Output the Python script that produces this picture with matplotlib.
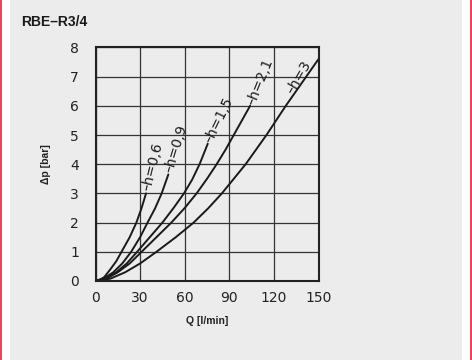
import matplotlib
matplotlib.use("Agg")
import matplotlib.pyplot as plt
from matplotlib.patches import Rectangle

title = "RBE\u2013R3/4"
x_label = "Q [l/min]"
y_label = "\u0394p [bar]"
x_ticks = [0, 30, 60, 90, 120, 150]
y_ticks = [0, 1, 2, 3, 4, 5, 6, 7, 8]

labels = ["h=0,6", "h=0,9", "h=1,5", "h=2,1", "h=3"]
q_06 = [0, 3, 6, 10, 14, 17.5, 23, 27.5, 31, 34]
p_06 = [0, 0.04, 0.14, 0.4, 0.68, 1.0, 1.5, 2.0, 2.5, 3.0]
q_09 = [0, 6, 12, 18, 24, 30, 35, 40, 44.5, 49]
p_09 = [0, 0.1, 0.3, 0.6, 1.0, 1.5, 2.0, 2.48, 3.0, 3.65]
q_15 = [0, 8, 14, 21, 28, 36.5, 45, 52.5, 59.5, 65, 70, 75.5]
p_15 = [0, 0.12, 0.3, 0.6, 1.0, 1.5, 2.0, 2.5, 3.0, 3.47, 4.0, 4.7]
q_21 = [0, 8, 15, 23, 31, 41, 51, 60, 68, 75, 81.5, 87.5, 93, 98.5, 104]
p_21 = [0, 0.1, 0.3, 0.6, 1.0, 1.5, 2.0, 2.5, 3.0, 3.5, 4.0, 4.5, 5.0, 5.5, 6.0]
q_3 = [0, 10, 20, 30, 41, 54, 66, 76, 85, 93, 101, 108, 115, 121.5, 128, 139, 150]
p_3 = [0, 0.08, 0.3, 0.6, 1.0, 1.5, 2.0, 2.5, 3.0, 3.5, 4.0, 4.5, 5.0, 5.5, 6.0, 6.8, 7.6]
series_q = [q_06, q_09, q_15, q_21, q_3]
series_p = [p_06, p_09, p_15, p_21, p_3]

# label anchors (start of the dash) and rotations -- layout only
label_pos = [(34.3, 3.1), (49.2, 3.72), (75.8, 4.76), (104.3, 6.04), (131.0, 6.45)]
label_rot = [76, 73, 64, 68, 60]

fig = plt.figure(figsize=(4.72, 3.6), dpi=100)
fig.patch.set_facecolor("white")
fig.add_artist(Rectangle((10/472, 0), 452/472, 1, transform=fig.transFigure,
                         facecolor="#ececec", edgecolor="none", zorder=-10))
fig.add_artist(Rectangle((0, 0), 2/472, 1, transform=fig.transFigure,
                         facecolor="#e8455c", edgecolor="none", zorder=-9))
fig.add_artist(Rectangle((470/472, 0), 2/472, 1, transform=fig.transFigure,
                         facecolor="#e8455c", edgecolor="none", zorder=-9))

ax = fig.add_axes([95.5/472, 79/360, 223/472, 233.6/360])
ax.set_facecolor("#ececec")
ax.set_xlim(0, 150)
ax.set_ylim(0, 8)
ax.set_xticks(x_ticks)
ax.set_yticks(y_ticks)
tick_font = ["DejaVu Sans Condensed", "Liberation Sans Narrow", "DejaVu Sans"]
ax.set_xticklabels([str(t) for t in x_ticks], family=tick_font, fontsize=10, color="#222222")
ax.set_yticklabels([str(t) for t in y_ticks], family=tick_font, fontsize=10, color="#222222")
ax.tick_params(axis="both", length=0)
ax.tick_params(axis="y", pad=12)
ax.tick_params(axis="x", pad=7)
ax.grid(True, color="#333333", linewidth=0.9)
ax.set_axisbelow(True)
for s in ax.spines.values():
    s.set_color("#222222")
    s.set_linewidth(1.5)

for q, p in zip(series_q, series_p):
    ax.plot(q, p, color="#1a1a1a", linewidth=1.4, solid_capstyle="round",
            solid_joinstyle="round")
for lab, (lx, ly), rot in zip(labels, label_pos, label_rot):
    ax.text(lx, ly, "\u2013" + lab, rotation=rot, rotation_mode="anchor",
            ha="left", va="center", fontsize=10, family=tick_font, color="#1a1a1a")

ax.set_xlabel(x_label, family="Liberation Sans", fontweight="bold", fontsize=7.5,
              color="#222222", labelpad=8)
ax.set_ylabel(y_label, family="Liberation Sans", fontweight="bold", fontsize=7.5,
              color="#222222", labelpad=14)
fig.text(21/472, 1 - 22/360, title, family="Liberation Sans", fontweight="bold",
         fontsize=10, color="#1a1a1a", ha="left", va="center")

fig.savefig("out.png", dpi=100, facecolor=fig.get_facecolor())
